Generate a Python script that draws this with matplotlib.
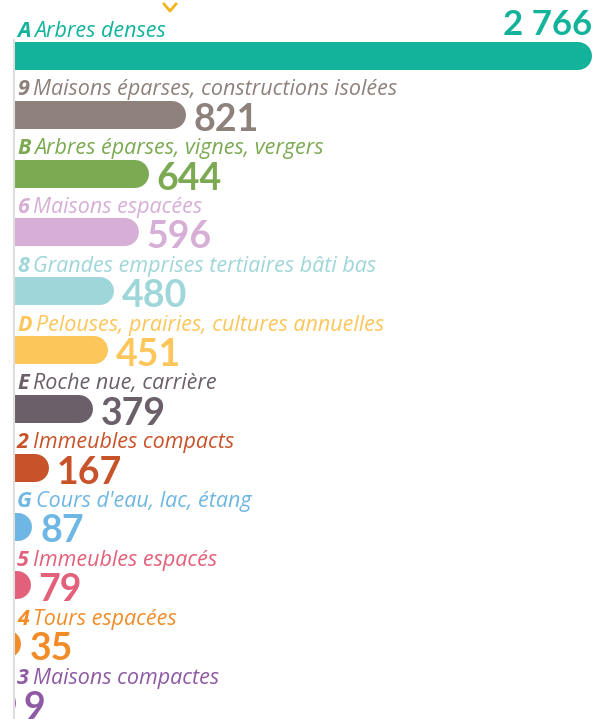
import matplotlib.pyplot as plt
from matplotlib.lines import Line2D

codes = ['A', '9', 'B', '6', '8', 'D', 'E', '2', 'G', '5', '4', '3']
names = ['Arbres denses', 'Maisons éparses, constructions isolées',
         'Arbres éparses, vignes, vergers', 'Maisons espacées',
         'Grandes emprises tertiaires bâti bas',
         'Pelouses, prairies, cultures annuelles', 'Roche nue, carrière',
         'Immeubles compacts', "Cours d'eau, lac, étang",
         'Immeubles espacés', 'Tours espacées', 'Maisons compactes']
values = [2766, 821, 644, 596, 480, 451, 379, 167, 87, 79, 35, 9]
value_labels = ['2 766', '821', '644', '596', '480', '451', '379',
                '167', '87', '79', '35', '9']
colors = ['#12B39A', '#8E817B', '#7BAA52', '#D6AED6', '#9FD6D9', '#FDC65A',
          '#6B5F69', '#C8532A', '#6EB6E4', '#E3607A', '#F28C28', '#8E5AA4']

W, H, DPI = 601, 719, 100
fig = plt.figure(figsize=(W / DPI, H / DPI), dpi=DPI)
left_px = 14
ax = fig.add_axes([left_px / W, 0, 1 - left_px / W, 1])
ax.axis('off')

# x scale: largest bar ends at 592 px
xmax = max(values) * (W - left_px) / (592 - left_px)
ax.set_xlim(0, xmax)
row_px = (703 - 56) / 11
ax.set_ylim((H - 56) / row_px, -56 / row_px)

px_per_unit = (W - left_px) / xmax
bar_px = 28
radius = (bar_px / 2) / px_per_unit
lw = bar_px * 72 / DPI

for i, (c, n, v, lab, col) in enumerate(zip(codes, names, values, value_labels, colors)):
    ax.plot([-3 * radius, v - radius], [i, i], color=col, lw=lw,
            solid_capstyle='round', clip_on=True)
    t = ax.text(3 / px_per_unit, i - 0.33, c, color=col, fontsize=15.5,
                fontweight='bold', fontstyle='italic', family='Open Sans',
                va='baseline', ha='left')
    ax.annotate(n, xy=(1, 0), xycoords=t, xytext=(3, 0),
                textcoords='offset points', color=col, fontsize=15.5,
                fontstyle='italic', family='Open Sans', va='bottom', ha='left')
    if i == 0:
        ax.text(v, i - 0.35, lab, color=col, fontsize=25, fontweight='bold',
                family='Lato', ha='right', va='baseline')
    else:
        ax.text(v + 8 / px_per_unit, i + 0.27, lab, color=col, fontsize=27,
                fontweight='bold', family='Lato', ha='left', va='baseline')

# left edge shadow and top chevron
fig.add_artist(Line2D([left_px / W] * 2, [0, 1 - 40 / H], color='#dedede', lw=1.5))
fig.add_artist(Line2D([164 / W, 170 / W, 176 / W], [1 - 4 / H, 1 - 11 / H, 1 - 4 / H],
                      color='#F5B31B', lw=2))

fig.savefig('out.png', dpi=DPI)
